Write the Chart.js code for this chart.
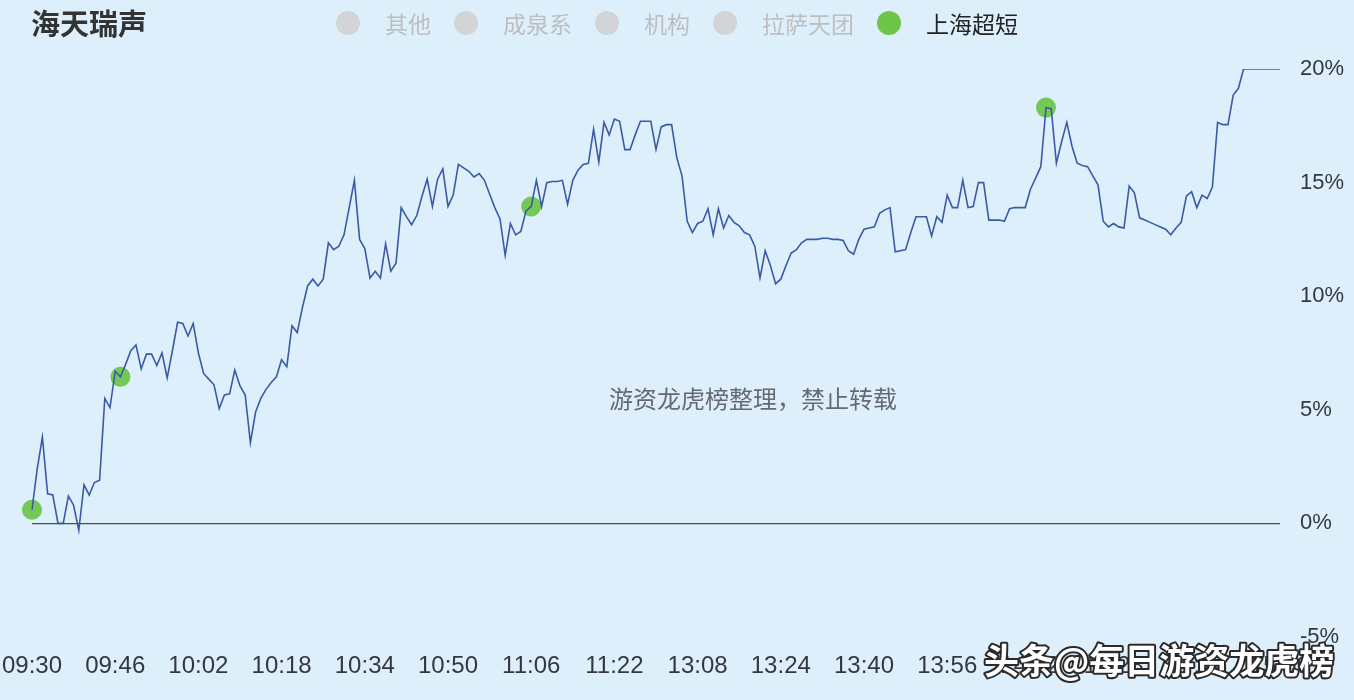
<!DOCTYPE html>
<html>
<head>
<meta charset="utf-8">
<title>海天瑞声</title>
<script src="https://cdn.jsdelivr.net/npm/chart.js@4.4.1/dist/chart.umd.min.js"></script>
<style>
    html, body { margin: 0; padding: 0; background: #ddeffa; }
    #wrap { position: relative; width: 1354px; height: 700px; }
</style>
</head>
<body>
<div id="wrap"><canvas id="chart" width="1354" height="700"></canvas></div>
<script>

const stockName = '海天瑞声';

// Intraday change in %, one value per minute (09:30-11:30, 13:01-15:00).
const changePct = [
    0.6, 2.4, 3.8, 1.3, 1.25, 0.0, 0.0, 1.2, 0.8, -0.3,
    1.7, 1.25, 1.8, 1.9, 5.5, 5.1, 6.7, 6.45, 7.0, 7.6,
    7.85, 6.8, 7.45, 7.45, 6.95, 7.5, 6.4, 7.6, 8.85, 8.8,
    8.25, 8.8, 7.5, 6.6, 6.35, 6.1, 5.05, 5.65, 5.7, 6.75,
    6.05, 5.65, 3.55, 4.9, 5.5, 5.9, 6.2, 6.45, 7.2, 6.9,
    8.7, 8.4, 9.5, 10.45, 10.75, 10.45, 10.75, 12.35, 12.05, 12.2,
    12.7, 13.9, 15.1, 12.5, 12.1, 10.8, 11.1, 10.8, 12.3, 11.1,
    11.45, 13.9, 13.5, 13.15, 13.55, 14.4, 15.15, 13.95, 15.15, 15.6,
    13.95, 14.45, 15.8, 15.65, 15.5, 15.25, 15.4, 15.1, 14.5, 13.9,
    13.4, 11.8, 13.2, 12.7, 12.85, 13.75, 13.95, 15.1, 13.95, 15.0,
    15.05, 15.05, 15.1, 14.05, 15.1, 15.55, 15.8, 15.85, 17.35, 15.9,
    17.65, 17.1, 17.8, 17.7, 16.45, 16.45, 17.1, 17.7, 17.7, 17.7,
    16.45, 17.45, 17.55, 17.55, 16.1, 15.3, 13.3, 12.8, 13.2, 13.3,
    13.85, 12.7, 13.85, 13.0, 13.55, 13.25, 13.1, 12.8, 12.7, 12.2,
    10.8, 12.0, 11.35, 10.55, 10.75, 11.35, 11.9, 12.05, 12.35, 12.5,
    12.5, 12.5, 12.55, 12.55, 12.5, 12.5, 12.45, 12.0, 11.85, 12.5,
    12.95, 13.0, 13.05, 13.65, 13.8, 13.9, 11.95, 12.0, 12.05, 12.8,
    13.5, 13.5, 13.5, 12.65, 13.5, 13.25, 14.45, 13.9, 13.9, 15.1,
    13.9, 13.95, 15.0, 15.0, 13.35, 13.35, 13.35, 13.3, 13.85, 13.9,
    13.9, 13.9, 14.7, 15.2, 15.7, 18.3, 18.25, 15.85, 16.8, 17.65,
    16.6, 15.85, 15.75, 15.7, 15.3, 14.9, 13.3, 13.05, 13.2, 13.05,
    13.0, 14.85, 14.55, 13.45, 13.35, 13.25, 13.15, 13.05, 12.95, 12.7,
    13.0, 13.25, 14.4, 14.6, 13.9, 14.45, 14.3, 14.8, 17.65, 17.55,
    17.55, 18.85, 19.15, 20.0, 20.0, 20.0, 20.0, 20.0, 20.0, 20.0,
    20.0
];

// Minutes (index into changePct) where 上海超短 traded.
const tradeIndex = [0, 17, 96, 195];

const legendNames = ['其他', '成泉系', '机构', '拉萨天团', '上海超短'];
const legendActive = [false, false, false, false, true];

const yTicks = [-5, 0, 5, 10, 15, 20];
const labelEvery = 16;

// 09:30 .. 11:30 and 13:01 .. 15:00
const timeLabels = [];
for (let m = 9 * 60 + 30; m <= 11 * 60 + 30; m++) timeLabels.push(fmtTime(m));
for (let m = 13 * 60 + 1; m <= 15 * 60; m++) timeLabels.push(fmtTime(m));

function fmtTime(m) {
    const h = Math.floor(m / 60), mm = m % 60;
    return String(h).padStart(2, '0') + ':' + String(mm).padStart(2, '0');
}

const tradePoints = changePct.map((v, i) => tradeIndex.includes(i) ? v : null);

const fontLatin = '"Liberation Sans", Arial, sans-serif';
const fontCJK = '"Noto Sans CJK SC", "Noto Sans", sans-serif';

// Title, legend row and watermarks are drawn straight onto the canvas.
const decorPlugin = {
    id: 'decor',
    afterDraw(chart) {
        const ctx = chart.ctx;
        ctx.save();

        ctx.fillStyle = '#333333';
        ctx.font = 'bold 29px ' + fontCJK;
        ctx.textBaseline = 'middle';
        ctx.textAlign = 'left';
        ctx.fillText(stockName, 31, 24);

        // legend: circle, 37px to text, 35px from text end to next circle centre
        ctx.font = '23px ' + fontCJK;
        const widths = legendNames.map(n => ctx.measureText(n).width);
        let total = 0;
        widths.forEach((w, i) => { total += 49 + w + (i < widths.length - 1 ? 23 : 0); });
        let x = 677 - total / 2;
        legendNames.forEach((name, i) => {
            ctx.beginPath();
            ctx.arc(x + 12, 23, 12, 0, Math.PI * 2);
            ctx.fillStyle = legendActive[i] ? '#6dc64a' : '#d2d4d6';
            ctx.fill();
            ctx.fillStyle = legendActive[i] ? '#222222' : '#bcbec0';
            ctx.fillText(name, x + 49, 24);
            x += 49 + widths[i] + 23;
        });

        ctx.font = '24px ' + fontCJK;
        ctx.textAlign = 'center';
        ctx.fillStyle = '#666a70';
        ctx.fillText('游资龙虎榜整理，禁止转载', 753, 399);

        ctx.font = 'bold 35px ' + fontCJK;
        ctx.textAlign = 'left';
        ctx.lineWidth = 4;
        ctx.strokeStyle = '#2a2a2a';
        ctx.lineJoin = 'round';
        ctx.strokeText('头条@每日游资龙虎榜', 984, 661);
        ctx.fillStyle = '#ffffff';
        ctx.fillText('头条@每日游资龙虎榜', 984, 661);

        ctx.restore();
    }
};

const canvas = document.getElementById('chart');

new Chart(canvas, {
    type: 'line',
    data: {
        labels: timeLabels,
        datasets: [
            {
                label: stockName,
                data: changePct,
                borderColor: '#3a5aa8',
                borderWidth: 1.6,
                pointRadius: 0,
                tension: 0,
                order: 0
            },
            {
                label: '上海超短',
                data: tradePoints,
                showLine: false,
                pointRadius: 10,
                pointBackgroundColor: 'rgba(106, 196, 70, 0.92)',
                pointBorderWidth: 0,
                order: 1
            }
        ]
    },
    options: {
        responsive: false,
        animation: false,
        layout: {
            padding: { top: 69, left: 32, right: 0, bottom: 0 }
        },
        plugins: {
            legend: { display: false },
            tooltip: { enabled: false }
        },
        scales: {
            x: {
                grid: { display: false, drawTicks: false },
                border: { display: false },
                ticks: {
                    autoSkip: false,
                    maxRotation: 0,
                    padding: 15,
                    color: '#333840',
                    font: { family: fontLatin, size: 24 },
                    callback: (v, i) => i % labelEvery === 0 ? timeLabels[i] : null
                },
                afterFit: (scale) => {
                    scale.height = 63;
                    scale.paddingLeft = 0;
                    scale.paddingRight = 0;
                }
            },
            y: {
                position: 'right',
                min: yTicks[0],
                max: yTicks[yTicks.length - 1],
                afterBuildTicks: (scale) => { scale.ticks = yTicks.map(v => ({ value: v })); },
                grid: {
                    drawTicks: false,
                    lineWidth: 1.3,
                    color: (c) => c.tick && c.tick.value === 0 ? '#4a4e5a' : 'rgba(0,0,0,0)'
                },
                border: { display: false },
                ticks: {
                    padding: 20,
                    color: '#333840',
                    font: { family: fontLatin, size: 22 },
                    callback: (v) => v + '%'
                },
                afterFit: (scale) => { scale.width = 74; }
            }
        }
    },
    plugins: [decorPlugin]
});

</script>
</body>
</html>
